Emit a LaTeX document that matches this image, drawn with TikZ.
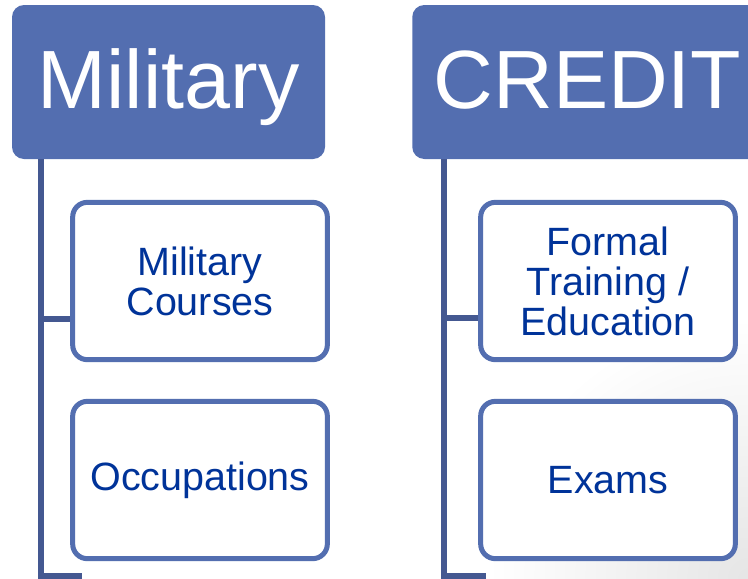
\documentclass[tikz,border=0pt]{standalone}
\usepackage{fontspec}
\setmainfont{Liberation Sans}
\definecolor{hdrblue}{RGB}{83,110,176}
\definecolor{linkblue}{RGB}{68,88,145}
\definecolor{txtblue}{RGB}{0,51,153}
\begin{document}
\begin{tikzpicture}[x=0.75pt,y=-0.75pt,
  header/.style={fill=hdrblue, rounded corners=9pt, inner sep=0pt,
    minimum height=115.5pt, text=white,
    font=\fontsize{62}{62}\selectfont, text height=45.3pt, text depth=6.2pt},
  subbox/.style={draw=hdrblue, line width=3.75pt, fill=white, rounded corners=11pt,
    minimum width=191pt, minimum height=118pt, inner sep=0pt, align=center,
    text=txtblue, font=\fontsize{29.6}{30}\selectfont},
  link/.style={draw=linkblue, line width=4.2pt}]
\useasboundingbox (0,0) rectangle (748,578);
\clip (0,0) rectangle (748,578);
\shade[inner color=gray!20, outer color=white] (748,578) circle (260);

% headers
\node[header, minimum width=234.75pt] (hmil) at (168.5,82) {Military};
\node[header, minimum width=268.5pt, anchor=west] (hcred) at (412,82) {\hspace*{-5.5pt}CREDIT};

% sub boxes
\node[subbox] (mc) at (200,281) {Military\\Courses};
\node[subbox] (oc) at (200,480) {\raisebox{-2pt}{Occupations}};
\node[subbox] (ft) at (608,281) {Formal\\Training /\\Education};
\node[subbox] (ex) at (608,480) {\raisebox{-1pt}{Exams}};

% connectors
\coordinate (a1) at (41,159);
\coordinate (a2) at (41,580);
\coordinate (j1) at (41,319);
\coordinate (b1) at (41,576);
\coordinate (e1) at (82,576);
\draw[link] (a1) -- (a2);
\draw[link] (j1) -- (j1 -| mc.west);
\draw[link] (b1) -- (e1);

\coordinate (c1) at (444,159);
\coordinate (c2) at (444,580);
\coordinate (k1) at (444,318);
\coordinate (d1) at (444,576);
\coordinate (f1) at (486,576);
\draw[link] (c1) -- (c2);
\draw[link] (k1) -- (k1 -| ft.west);
\draw[link] (d1) -- (f1);
\end{tikzpicture}
\end{document}
